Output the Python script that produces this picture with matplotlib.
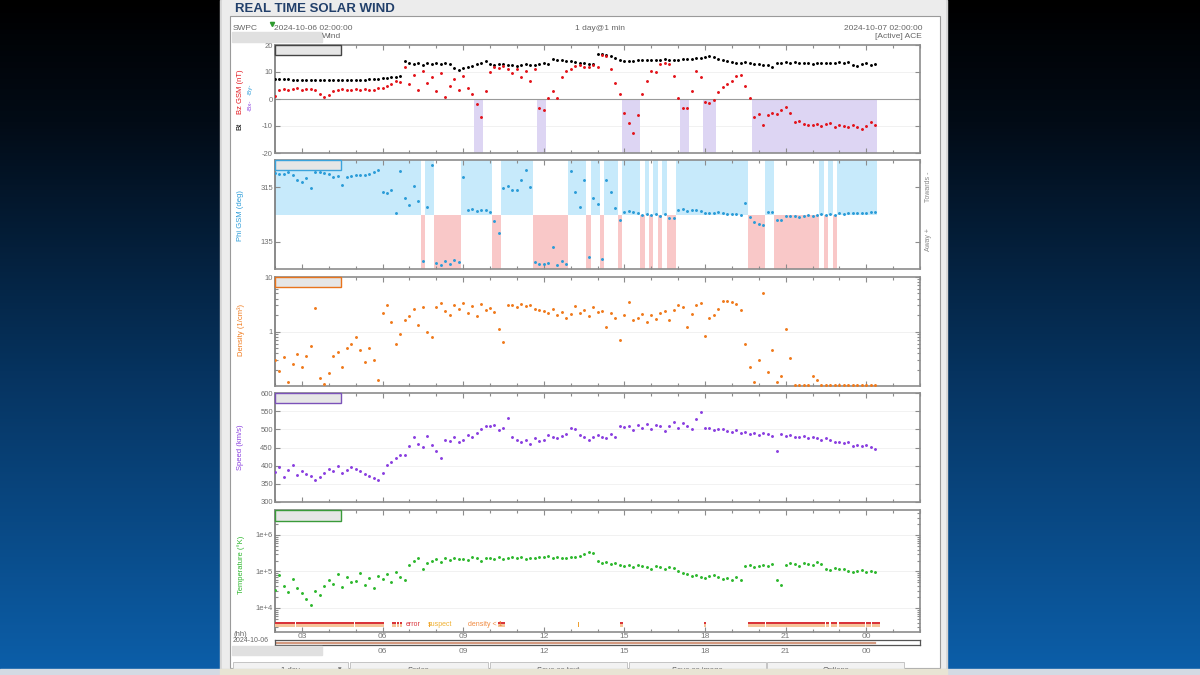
import numpy as np
import pandas as pd
import matplotlib
matplotlib.use('Agg')
import matplotlib.pyplot as plt
import matplotlib.dates as mdates
from matplotlib.colors import LinearSegmentedColormap
from matplotlib.patches import Rectangle
from matplotlib.ticker import NullFormatter, FixedLocator, FixedFormatter, LogLocator

plt.rcParams['font.family'] = ['Liberation Sans', 'DejaVu Sans']
plt.rcParams['axes.unicode_minus'] = False

# ---- values, one sample every 10 min from 2024-10-06 02:00 ----
# (one row = one hour)
bt = [7.5, 7.4, 7.3, 7.3, 7.2, 7.2,
      7.2, 7.1, 7.1, 7.0, 7.0, 7.0,
      7.0, 7.0, 7.1, 7.0, 6.9, 7.0,
      7.1, 7.2, 7.2, 7.3, 7.4, 7.5,
      7.6, 7.8, 8.0, 8.3, 8.6, 14.0,
      13.5, 12.8, 13.2, 12.5, 13.5, 13.0,
      13.2, 12.8, 13.5, 12.9, 11.5, 10.8,
      11.5, 12.0, 12.3, 12.8, 13.5, 14.0,
      13.0, 12.5, 12.8, 13.0, 12.5, 12.6,
      12.3, 12.5, 12.8, 12.6, 12.7, 13.0,
      13.2, 13.0, 14.8, 14.5, 14.3, 14.0,
      14.0, 13.8, 13.5, 13.2, 13.0, 12.8,
      16.6, 16.5, 16.3, 16.0, 15.2, 14.5,
      14.2, 13.9, 14.2, 14.5, 14.3, 14.6,
      14.5, 14.3, 14.6, 14.8, 14.5, 14.4,
      14.6, 14.8, 14.7, 15.0, 15.2, 15.3,
      15.6, 15.9, 15.5, 15.0, 14.4, 14.0,
      13.8, 13.5, 13.4, 13.6, 13.2, 12.8,
      13.0, 12.7, 12.5, 12.0, 13.2, 13.5,
      13.6, 13.4, 13.7, 13.5, 13.3, 13.2,
      13.0, 13.2, 13.4, 13.3, 13.5, 13.4,
      13.6, 13.5, 13.6, 12.5, 12.3, 12.8,
      13.4, 12.6, 12.8]

bz_gsm = [1.2, 3.5, 3.8, 3.2, 3.6, 3.9,
          3.5, 3.8, 3.6, 3.2, 2.0, 0.8,
          1.5, 2.8, 3.2, 3.6, 3.4, 3.5,
          3.8, 3.4, 3.6, 3.2, 3.5, 3.9,
          4.2, 4.8, 5.5, 6.5, 6.2, 12.0,
          5.5, 9.0, 3.2, 10.5, 6.0, 8.2,
          2.8, 9.5, 0.8, 5.0, 7.5, 3.5,
          8.5, 4.0, 2.0, -2.0, -6.5, 3.0,
          10.0, 12.0, 11.5, 12.2, 11.0, 9.5,
          11.0, 8.0, 10.5, 6.5, 11.0, -3.5,
          -4.2, 0.5, 3.0, 0.5, 8.0, 10.5,
          11.0, 12.2, 12.5, 11.8, 12.0, 12.5,
          12.0, 16.2, 16.0, 11.0, 6.0, 2.0,
          -5.0, -9.0, -12.5, -6.0, 2.0, 6.5,
          10.5, 10.0, 13.0, 13.2, 12.8, 8.5,
          0.5, -3.5, -3.2, 3.0, 10.5, 8.0,
          -1.2, -1.5, -0.5, 2.5, 4.5, 5.5,
          6.5, 8.5, 9.0, 5.0, 0.5, -6.8,
          -5.5, -9.5, -5.8, -5.0, -5.5, -4.0,
          -3.0, -5.2, -8.5, -8.0, -9.2, -9.5,
          -9.8, -9.2, -10.0, -9.4, -9.0, -10.2,
          -9.6, -10.0, -10.5, -9.8, -10.4, -11.0,
          -10.0, -8.6, -9.8]

phi_gsm = [362, 360, 358, 364, 355, 340,
           333, 345, 312, 365, 366, 362,
           360, 350, 352, 322, 348, 352,
           355, 357, 354, 360, 366, 372,
           300, 296, 305, 230, 370, 280,
           255, 320, 270, 70, 250, 390,
           65, 58, 70, 62, 75, 68,
           350, 240, 242, 238, 241, 240,
           232, 205, 164, 312, 318, 305,
           306, 340, 372, 315, 68, 62,
           60, 65, 119, 58, 70, 62,
           370, 300, 250, 340, 86, 280,
           260, 77, 340, 300, 248, 207,
           234, 236, 232, 230, 222, 226,
           224, 226, 221, 228, 213, 215,
           240, 242, 238, 241, 239, 236,
           230, 231, 229, 232, 230, 228,
           227, 226, 225, 263, 218, 201,
           195, 190, 234, 232, 207, 206,
           220, 219, 221, 218, 220, 222,
           221, 224, 226, 222, 227, 223,
           229, 228, 230, 229, 231, 230,
           231, 232, 233]

density = [0.30, 0.19, 0.34, 0.12, 0.25, 0.38,
           0.22, 0.36, 0.54, 2.7, 0.14, 0.11,
           0.17, 0.35, 0.42, 0.22, 0.50, 0.60,
           0.78, 0.45, 0.28, 0.50, 0.30, 0.13,
           2.2, 3.0, 1.5, 0.6, 0.9, 1.6,
           1.9, 2.6, 1.3, 2.8, 1.0, 0.8,
           2.8, 3.3, 2.4, 2.0, 3.0, 2.6,
           3.4, 2.2, 2.9, 1.9, 3.2, 2.5,
           2.7, 2.3, 1.1, 0.65, 3.0, 3.1,
           2.8, 3.2, 2.9, 3.0, 2.6, 2.5,
           2.4, 2.2, 2.6, 2.0, 2.3, 1.8,
           2.1, 2.9, 2.2, 2.5, 1.9, 2.8,
           2.3, 2.4, 1.2, 2.2, 1.8, 0.7,
           2.0, 3.5, 1.6, 1.8, 2.1, 1.5,
           2.0, 1.7, 2.2, 2.4, 1.6, 2.5,
           3.0, 2.8, 1.2, 2.1, 3.1, 3.4,
           0.84, 1.8, 2.0, 2.6, 3.7, 3.6,
           3.5, 3.2, 2.5, 0.6, 0.22, 0.12,
           0.30, 5.0, 0.18, 0.45, 0.12, 0.15,
           1.1, 0.33, 0.104, 0.104, 0.104, 0.104,
           0.15, 0.13, 0.104, 0.104, 0.104, 0.104,
           0.104, 0.104, 0.104, 0.104, 0.104, 0.104,
           0.104, 0.104, 0.104]

speed = [382, 395, 370, 388, 402, 375,
         385, 378, 372, 360, 368, 380,
         392, 385, 398, 380, 388, 395,
         390, 385, 378, 372, 365, 360,
         380, 402, 410, 420, 428, 430,
         455, 480, 460, 452, 481, 458,
         440, 421, 470, 468, 478, 465,
         470, 485, 478, 490, 502, 510,
         508, 513, 499, 505, 531, 480,
         472, 465, 470, 461, 475, 468,
         470, 485, 478, 475, 482, 488,
         503, 500, 485, 478, 472, 480,
         484, 478, 476, 486, 480, 508,
         506, 510, 498, 512, 505, 515,
         500, 512, 508, 496, 510, 520,
         505, 518, 510, 500, 528, 549,
         503, 505, 498, 501, 500, 496,
         494, 498, 490, 492, 488, 490,
         485, 490, 487, 482, 440, 486,
         483, 485, 480, 478, 482, 476,
         478, 475, 472, 476, 470, 466,
         466, 462, 465, 453, 458, 455,
         457, 452, 447]

temp_kK = [32, 79, 40, 28, 63, 35,
           25, 18, 12, 30, 22, 40,
           60, 45, 85, 38, 70, 52,
           55, 90, 42, 68, 35, 75,
           62, 88, 50, 95, 70, 58,
           150, 190, 230, 120, 175, 200,
           220, 180, 240, 205, 230, 215,
           225, 210, 245, 230, 200, 235,
           240, 220, 250, 215, 230, 245,
           235, 250, 220, 240, 230, 255,
           245, 260, 235, 250, 240, 230,
           250, 245, 265, 300, 340, 320,
           200, 170, 180, 160, 175, 150,
           140, 150, 130, 155, 145, 135,
           120, 140, 135, 115, 130, 125,
           100, 90, 85, 75, 80, 70,
           65, 75, 80, 72, 62, 68,
           60, 70, 58, 140, 150, 130,
           145, 155, 140, 160, 60, 42,
           150, 170, 160, 145, 175, 165,
           155, 180, 165, 120, 110, 125,
           115, 120, 105, 95, 100, 110,
           95, 105, 98]

# quality flags, hours after 02:00
flag_error = [(0.0, 0.74), (0.78, 2.95), (2.99, 4.05), (4.35, 4.5), (4.53, 4.62),
              (4.66, 4.72), (8.3, 8.55), (12.85, 12.95), (15.95, 16.02),
              (17.6, 18.22), (18.26, 20.48), (20.52, 20.63), (20.67, 20.93),
              (20.97, 21.94), (21.98, 22.18), (22.22, 22.5)]
flag_suspect = [(5.72, 5.78), (11.28, 11.32)]

t0 = pd.Timestamp('2024-10-06 02:00')
t1 = pd.Timestamp('2024-10-07 02:00')
times = pd.date_range(t0, periods=len(bz_gsm), freq='10min')
num0 = mdates.date2num(t0)
step = 10 / 1440

bt = np.array(bt)
bz_gsm = np.array(bz_gsm)
phi_gsm = np.array(phi_gsm)
density = np.array(density)
speed = np.array(speed)
temp = np.array(temp_kK) * 1e3

W, H = 1200, 675
fig = plt.figure(figsize=(12, 6.75), dpi=100)
MS = 2.2


def box(x0, y0, x1, y1):
    return [x0 / W, 1 - y1 / H, (x1 - x0) / W, (y1 - y0) / H]


# background (slide gradient + web page)
bg = fig.add_axes([0, 0, 1, 1], zorder=-5)
bg.set_xlim(0, W)
bg.set_ylim(H, 0)
bg.axis('off')
cmap = LinearSegmentedColormap.from_list('sky', [(0, '#000000'), (0.18, '#020b16'),
                                                 (0.55, '#06335f'), (1, '#0c5faa')])
bg.imshow(np.linspace(0, 1, 256).reshape(-1, 1), extent=[0, W, H, 0], aspect='auto', cmap=cmap)
bg.add_patch(Rectangle((220, 0), 727, 675, color='#d4d4d4'))
bg.add_patch(Rectangle((222, 0), 723, 668, color='#ececec'))
bg.add_patch(Rectangle((230, 16), 710, 652, facecolor='white', edgecolor='#9a9a9a', lw=0.8))

ov = fig.add_axes([0, 0, 1, 1], zorder=20)
ov.set_xlim(0, W)
ov.set_ylim(H, 0)
ov.axis('off')
ov.patch.set_alpha(0)


def style_axis(ax):
    ax.set_facecolor('none')
    ax.set_xlim(t0, t1)
    ax.xaxis.set_major_locator(mdates.HourLocator(byhour=range(0, 24, 3)))
    ax.xaxis.set_minor_locator(mdates.HourLocator())
    ax.xaxis.set_major_formatter(NullFormatter())
    ax.tick_params(axis='both', which='both', direction='in', top=True, right=True,
                   colors='#8c8c8c', labelcolor='#6e6e6e', labelsize=5.5, width=0.8, pad=1.5)
    ax.tick_params(which='major', length=3.5)
    ax.tick_params(which='minor', length=2)
    for s in ax.spines.values():
        s.set_color('#8c8c8c')
        s.set_linewidth(1.2)
    ax.spines['left'].set_color('#777777')


def legend_box(ax, edge):
    ax.add_patch(Rectangle((0, 1 - 10 / 108), 66 / 645, 10 / 108, transform=ax.transAxes,
                           facecolor='#e6e6e6', edgecolor=edge, lw=1, zorder=5, clip_on=False))


# Bz / Bt
ax1 = fig.add_axes(box(275, 45, 920, 153))
style_axis(ax1)
ax1.set_ylim(-20, 20)
ax1.set_yticks([-20, -10, 0, 10, 20])
for v in (-10, 10):
    ax1.axhline(v, color='#efefef', lw=0.6, zorder=0)
ax1.bar(times[bz_gsm < 0], -20, bottom=0, width=step, color='#ddd5f3', lw=0, zorder=0)
ax1.axhline(0, color='#9a9a9a', lw=0.8, zorder=1)
ax1.plot(times, bt, ls='none', marker='.', ms=MS, color='black', zorder=3)
ax1.plot(times, bz_gsm, ls='none', marker='.', ms=MS, color='#e3141b', zorder=3)
legend_box(ax1, '#444444')

# Phi
ax2 = fig.add_axes(box(275, 160, 920, 269))
style_axis(ax2)
ax2.set_ylim(45, 405)
ax2.set_yticks([135, 315])
towards = phi_gsm >= 225
ax2.bar(times[towards], 180, bottom=225, width=step, color='#c7eafb', lw=0, zorder=0)
ax2.bar(times[~towards], 180, bottom=45, width=step, color='#f9c8c8', lw=0, zorder=0)
ax2.plot(times, phi_gsm, ls='none', marker='.', ms=MS, color='#2b9cd8', zorder=3)
legend_box(ax2, '#3aa3dc')

# Density
ax3 = fig.add_axes(box(275, 277, 920, 386))
style_axis(ax3)
ax3.set_yscale('log')
ax3.set_ylim(0.1, 10)
ax3.yaxis.set_major_locator(FixedLocator([1, 10]))
ax3.yaxis.set_major_formatter(FixedFormatter(['1', '10']))
ax3.yaxis.set_minor_locator(LogLocator(subs=np.arange(2, 10)))
ax3.yaxis.set_minor_formatter(NullFormatter())
ax3.axhline(1, color='#efefef', lw=0.6, zorder=0)
ax3.plot(times, density, ls='none', marker='.', ms=MS, color='#f07a1c', zorder=3)
legend_box(ax3, '#e8741c')

# Speed
ax4 = fig.add_axes(box(275, 393, 920, 502))
style_axis(ax4)
ax4.set_ylim(300, 600)
ax4.set_yticks(range(300, 601, 50))
for v in range(350, 600, 50):
    ax4.axhline(v, color='#f0f0f0', lw=0.6, zorder=0)
ax4.plot(times, speed, ls='none', marker='.', ms=MS, color='#8a3fe0', zorder=3)
legend_box(ax4, '#7b52b9')

# Temperature (+ flag strip at the bottom)
ax5 = fig.add_axes(box(275, 510, 920, 632))
style_axis(ax5)
ax5.set_yscale('log')
ax5.set_ylim(2.2e3, 4.84e6)
ax5.yaxis.set_major_locator(FixedLocator([1e4, 1e5, 1e6]))
ax5.yaxis.set_major_formatter(FixedFormatter(['1e+4', '1e+5', '1e+6']))
ax5.yaxis.set_minor_locator(LogLocator(subs=np.arange(2, 10)))
ax5.yaxis.set_minor_formatter(NullFormatter())
for v in (1e4, 1e5, 1e6):
    ax5.axhline(v, color='#efefef', lw=0.6, zorder=0)
ax5.plot(times, temp, ls='none', marker='.', ms=MS, color='#2eb82e', zorder=3)
ax5.xaxis.set_major_formatter(mdates.DateFormatter('%H'))
ax5.tick_params(axis='x', which='major', labelbottom=True, labelsize=6, labelcolor='#777777', pad=1)
legend_box(ax5, '#3a9b3a')

axf = fig.add_axes(box(275, 618, 920, 632), zorder=2)
axf.set_xlim(num0, num0 + 1)
axf.set_ylim(0, 1)
axf.axis('off')
axf.broken_barh([(num0 + a / 24, (b - a) / 24) for a, b in flag_error], (0.38, 0.17), color='#f6c59a', lw=0)
axf.broken_barh([(num0 + a / 24, (b - a) / 24) for a, b in flag_error], (0.55, 0.15), color='#d9343a', lw=0)
axf.broken_barh([(num0 + a / 24, (b - a) / 24) for a, b in flag_suspect], (0.38, 0.3), color='#f0a030', lw=0)

# navigator strip
axn = fig.add_axes(box(275, 640, 920, 645))
axn.set_xlim(t0, t1)
axn.set_ylim(0, 1)
axn.plot([times[0], times[-1]], [0.35, 0.35], color='#d49a80', lw=1.6)
axn.set_yticks([])
axn.xaxis.set_major_locator(mdates.HourLocator(byhour=range(0, 24, 3)))
axn.xaxis.set_major_formatter(mdates.DateFormatter('%H'))
axn.tick_params(axis='x', length=0, labelsize=6, labelcolor='#777777', pad=2)
for s in axn.spines.values():
    s.set_color('#555555')
    s.set_linewidth(0.9)

# texts / page decorations
grey = '#666666'
ov.text(235, 12, 'REAL TIME SOLAR WIND', fontsize=9.5, fontweight='bold', color='#22406b', va='baseline')
ov.text(233, 28, 'SWPC', fontsize=6, color=grey, va='center')
ov.plot([272], [24], marker='v', ms=3, color='#2e9a2e')
ov.text(274, 28, '2024-10-06 02:00:00', fontsize=6, color=grey, va='center')
ov.text(600, 28, '1 day@1 min', fontsize=6, color=grey, va='center', ha='center')
ov.text(922, 28, '2024-10-07 02:00:00', fontsize=6, color=grey, va='center', ha='right')
ov.add_patch(Rectangle((232, 32), 90, 10, color='#e0e0e0'))
ov.text(332, 37, 'Wind', fontsize=6, color=grey, va='center', ha='center')
ov.text(922, 37, '[Active] ACE', fontsize=6, color=grey, va='center', ha='right')

ov.text(240, 92, 'Bz GSM (nT)', rotation=90, fontsize=5.5, color='#e3141b', ha='center', va='center')
ov.text(240, 126, 'Bt', rotation=90, fontsize=5.5, color='black', ha='center', va='center')
ov.text(250, 89, '-By-', rotation=90, fontsize=4.5, color='#2b9cd8', ha='center', va='center')
ov.text(250, 105, '-Bx-', rotation=90, fontsize=4.5, color='#8a3fe0', ha='center', va='center')
ov.text(241, 216, 'Phi GSM (deg)', rotation=90, fontsize=5.5, color='#2b9cd8', ha='center', va='center')
ov.text(928, 187, 'Towards -', rotation=90, fontsize=5, color='#888888', ha='center', va='center')
ov.text(928, 240, 'Away +', rotation=90, fontsize=5, color='#888888', ha='center', va='center')
ov.text(241, 330, 'Density (1/cm³)', rotation=90, fontsize=5.5, color='#f07a1c', ha='center', va='center')
ov.text(241, 447, 'Speed (km/s)', rotation=90, fontsize=5.5, color='#8a3fe0', ha='center', va='center')
ov.text(241, 565, 'Temperature (°K)', rotation=90, fontsize=5.5, color='#2eb82e', ha='center', va='center')

ov.text(406, 625, 'error', fontsize=5, color='#d9343a', va='center')
ov.text(428, 625, 'suspect', fontsize=5, color='#f0b030', va='center')
ov.text(468, 625, 'density < 1', fontsize=5, color='#f08a40', va='center')

ov.text(233, 634, '(hh)', fontsize=5.5, color=grey, va='center')
ov.text(233, 641, '2024-10-06', fontsize=5, color=grey, va='center')
ov.add_patch(Rectangle((232, 645.5), 90, 9.5, color='#e0e0e0'))

buttons = [('1 day', 233, 348), ('Series', 350, 488), ('Save as text', 490, 627),
           ('Save as image', 629, 766), ('Options', 767, 904)]
for label, xa, xb in buttons:
    ov.add_patch(Rectangle((xa, 662), xb - xa, 14, facecolor='#f2f2f2', edgecolor='#c4c4c4', lw=0.7))
    ov.text((xa + xb) / 2, 671, label, fontsize=5.5, color='#444444', ha='center', va='center')
ov.text(340, 670, '▾', fontsize=5, color='#444444', ha='center', va='center')
ov.add_patch(Rectangle((0, 669), W, 6, color='#d3dae3', zorder=5))
ov.add_patch(Rectangle((220, 669), 727, 6, color='#e8e4d4', zorder=6))

fig.savefig('out.png', dpi=100)
